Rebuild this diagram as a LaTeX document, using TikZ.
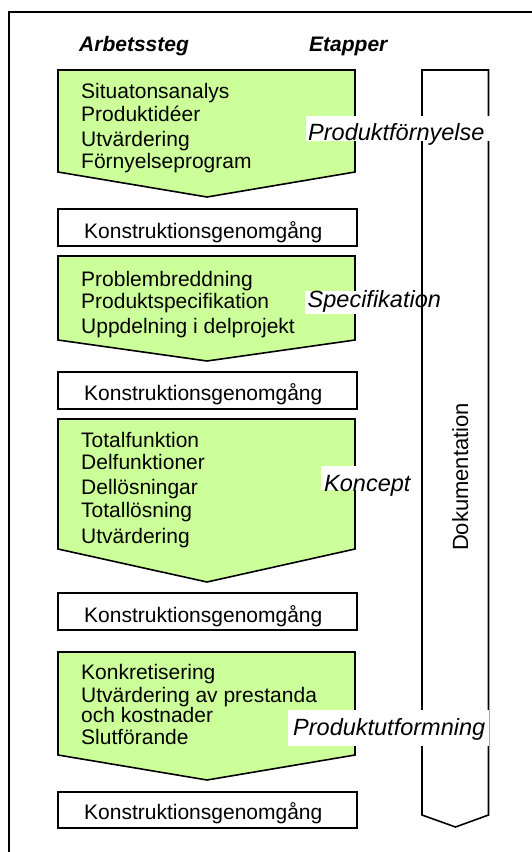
\documentclass[tikz,border=0pt]{standalone}
\usepackage{fontspec}
\setmainfont{Liberation Sans}
\definecolor{stepgreen}{HTML}{CCFF99}
\tikzset{
  greenarrow/.style={draw=black, line width=1.6pt, fill=stepgreen, line join=miter},
  docarrow/.style={draw=black, line width=1.6pt, fill=white, line join=miter},
  reviewbox/.style={draw=black, line width=1.6pt, fill=white},
  steptext/.style={anchor=base west, inner sep=0pt, font=\fontsize{21}{23}\selectfont},
  header/.style={anchor=base west, inner sep=0pt, font=\fontsize{21}{23}\selectfont\bfseries\itshape},
  stagelabel/.style={anchor=base west, inner sep=0pt, font=\fontsize{23.5}{26}\selectfont\itshape},
  labelbg/.style={fill=white, draw=none},
}
\begin{document}
\begin{tikzpicture}[x=1pt, y=-1pt]
\useasboundingbox (0,0) rectangle (532,852);
\clip (0,0) rectangle (532,852);
\fill[white] (0,0) rectangle (532,852);
% outer frame
\draw[line width=1.2pt] (9,12) rectangle (560,880);

% headers
\node[header] (hA) at (79,51) {Arbetssteg};
\node[header] (hE) at (309,51) {Etapper};

% documentation arrow
\draw[docarrow] (422,70) -- (488.5,70) -- (488.5,815) -- (455.5,827) -- (422,815) -- cycle;
\node[anchor=base, rotate=90, inner sep=0pt, font=\fontsize{22}{24}\selectfont] (doc) at (468,477) {Dokumentation};

% stage 1
\draw[greenarrow] (58,70) -- (355,70) -- (355,172) -- (207,197) -- (58,172) -- cycle;
\node[steptext] (s1a) at (81,98) {Situatonsanalys};
\node[steptext] (s1b) at (81,121.5) {Produktidéer};
\node[steptext] (s1c) at (81,146) {Utvärdering};
\node[steptext] (s1d) at (81,168) {Förnyelseprogram};
\draw[reviewbox] (58,209) rectangle (357,246);
\node[steptext] (r1) at (84,238) {Konstruktionsgenomgång};

% stage 2
\draw[greenarrow] (58,256) -- (355,256) -- (355,340) -- (207,361) -- (58,340) -- cycle;
\node[steptext] (s2a) at (81,286) {Problembreddning};
\node[steptext] (s2b) at (81,308) {Produktspecifikation};
\node[steptext] (s2c) at (81,333) {Uppdelning i delprojekt};
\draw[reviewbox] (58,372) rectangle (357,409);
\node[steptext] (r2) at (84,400) {Konstruktionsgenomgång};

% stage 3
\draw[greenarrow] (58,419) -- (355,419) -- (355,549) -- (207,582) -- (58,549) -- cycle;
\node[steptext] (s3a) at (81,447) {Totalfunktion};
\node[steptext] (s3b) at (81,469) {Delfunktioner};
\node[steptext] (s3c) at (81,494) {Dellösningar};
\node[steptext] (s3d) at (81,517) {Totallösning};
\node[steptext] (s3e) at (81,543) {Utvärdering};
\draw[reviewbox] (58,593) rectangle (357,630);
\node[steptext] (r3) at (84,622) {Konstruktionsgenomgång};

% stage 4
\draw[greenarrow] (58,652) -- (355,652) -- (355,755) -- (207,780) -- (58,755) -- cycle;
\node[steptext] (s4a) at (81,679.5) {Konkretisering};
\node[steptext] (s4b) at (81,702) {Utvärdering av prestanda};
\node[steptext] (s4c) at (81,722) {och kostnader};
\node[steptext] (s4d) at (81,744.5) {Slutförande};
\draw[reviewbox] (58,792) rectangle (357,828);
\node[steptext] (r4) at (84,819) {Konstruktionsgenomgång};

% stage labels
\fill[labelbg] (306,116) rectangle (490,141);
\node[stagelabel] (lA) at (308,140) {Produktförnyelse};
\fill[labelbg] (305,291) rectangle (421,314);
\node[stagelabel] (lB) at (307.5,307) {Specifikation};
\fill[labelbg] (321,466) rectangle (420.5,490);
\node[stagelabel] (lC) at (324,491) {Koncept};
\fill[labelbg] (288,710) rectangle (489,746);
\node[stagelabel] (lD) at (293,735) {Produktutformning};
\end{tikzpicture}
\end{document}
